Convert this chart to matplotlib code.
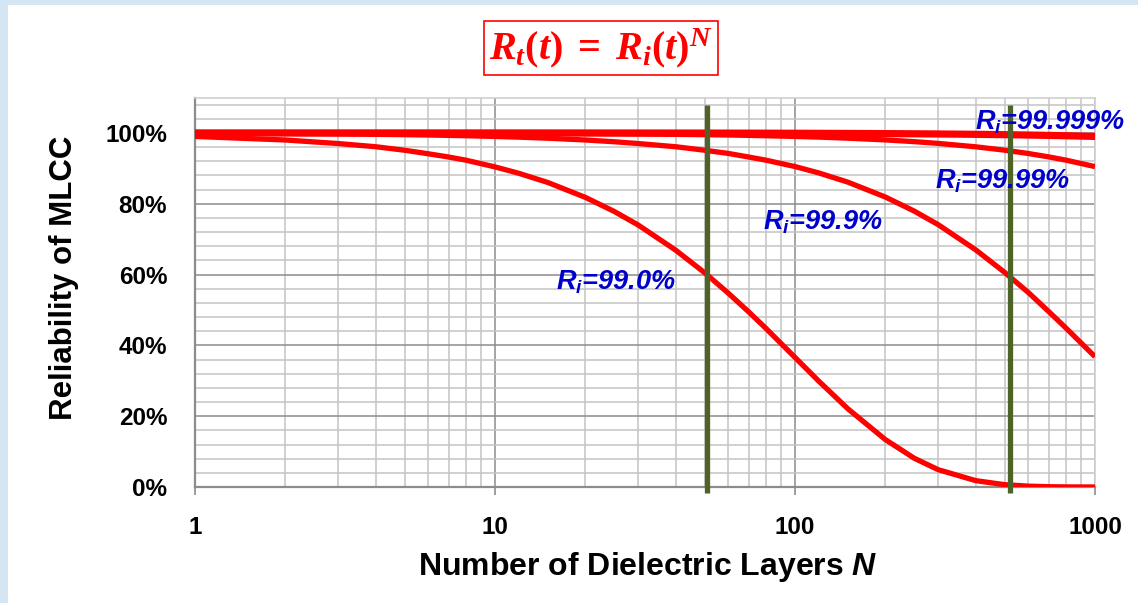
import matplotlib
matplotlib.use("Agg")
import matplotlib.pyplot as plt
from matplotlib.ticker import LogLocator, FixedLocator, PercentFormatter, NullFormatter
from matplotlib.patches import Rectangle

plt.rcParams["font.family"] = ["Liberation Sans", "DejaVu Sans"]
plt.rcParams["mathtext.fontset"] = "custom"
plt.rcParams["mathtext.it"] = "Liberation Serif:italic:bold"
plt.rcParams["mathtext.rm"] = "Liberation Serif:bold"
plt.rcParams["mathtext.sf"] = "Liberation Sans:italic:bold"

# number of dielectric layers and reliability (%)
layers = [1, 2, 3, 4, 5, 6, 7, 8, 10, 12, 15, 20, 25, 30, 40, 50, 60, 70, 80,
          100, 120, 150, 200, 250, 300, 400, 500, 600, 700, 800, 1000]
r_990 = [99.0, 98.0, 97.0, 96.1, 95.1, 94.1, 93.2, 92.3, 90.4, 88.6, 86.0, 81.8,
         77.8, 74.0, 66.9, 60.5, 54.7, 49.5, 44.8, 36.6, 29.9, 22.1, 13.4, 8.1,
         4.9, 1.8, 0.66, 0.24, 0.09, 0.03, 0.0]
r_999 = [99.9, 99.8, 99.7, 99.6, 99.5, 99.4, 99.3, 99.2, 99.0, 98.8, 98.5, 98.0,
         97.5, 97.0, 96.1, 95.1, 94.2, 93.2, 92.3, 90.5, 88.7, 86.1, 81.9, 77.9,
         74.1, 67.0, 60.6, 54.9, 49.6, 44.9, 36.8]
r_9999 = [99.99, 99.98, 99.97, 99.96, 99.95, 99.94, 99.93, 99.92, 99.90, 99.88,
          99.85, 99.80, 99.75, 99.70, 99.60, 99.50, 99.40, 99.30, 99.20, 99.00,
          98.81, 98.51, 98.02, 97.53, 97.04, 96.08, 95.12, 94.18, 93.24, 92.31, 90.48]
r_99999 = [99.999, 99.998, 99.997, 99.996, 99.995, 99.994, 99.993, 99.992, 99.99,
           99.988, 99.985, 99.98, 99.975, 99.97, 99.96, 99.95, 99.94, 99.93, 99.92,
           99.90, 99.88, 99.85, 99.80, 99.75, 99.70, 99.60, 99.50, 99.40, 99.30,
           99.20, 99.01]
marker_layers = [51, 520]

labels = ["$\\mathsf{R_i}$=99.0%", "$\\mathsf{R_i}$=99.9%",
          "$\\mathsf{R_i}$=99.99%", "$\\mathsf{R_i}$=99.999%"]
label_pos = [(16.0, 55.7), (78.0, 72.6), (293, 84.2), (398, 101.1)]

fig = plt.figure(figsize=(11.38, 6.03), dpi=100)
fig.patch.set_facecolor("white")
# light blue slide background peeking out at left and top
fig.patches.append(Rectangle((0, 0), 7.5 / 1138, 1, transform=fig.transFigure,
                             facecolor="#d4e5f4", edgecolor="none", zorder=-1))
fig.patches.append(Rectangle((0, 1 - 5 / 603), 1, 5 / 603, transform=fig.transFigure,
                             facecolor="#d4e5f4", edgecolor="none", zorder=-1))

ax = fig.add_axes([195 / 1138, 1 - 487 / 603, 900 / 1138, 389.5 / 603])
ax.set_xscale("log")
ax.set_xlim(1, 1000)
ax.set_ylim(0, 110)

ax.xaxis.set_major_locator(LogLocator(base=10))
ax.xaxis.set_minor_locator(LogLocator(base=10, subs=range(2, 10)))
ax.xaxis.set_minor_formatter(NullFormatter())
ax.set_xticks([1, 10, 100, 1000], ["1", "10", "100", "1000"])
ax.yaxis.set_major_locator(FixedLocator([0, 20, 40, 60, 80, 100]))
ax.yaxis.set_minor_locator(FixedLocator([4, 8, 12, 16, 24, 28, 32, 36, 44, 48, 52, 56,
                                         64, 68, 72, 76, 84, 88, 92, 96, 104, 108]))
ax.yaxis.set_major_formatter(PercentFormatter(decimals=0))

ax.grid(which="major", color="#8c8c8c", lw=1.1)
ax.grid(which="minor", color="#c4c4c4", lw=1.1)
ax.set_axisbelow(True)

ax.tick_params(axis="x", which="major", length=6, color="#8c8c8c", width=1.2,
               labelsize=17.5, pad=15)
ax.tick_params(axis="x", which="minor", length=0)
ax.tick_params(axis="y", which="both", length=0, labelsize=17.5, pad=20)
for lab in ax.get_xticklabels() + ax.get_yticklabels():
    lab.set_fontweight("bold")

for side in ["left", "bottom"]:
    ax.spines[side].set_color("#8c8c8c")
    ax.spines[side].set_linewidth(1.6)
for side in ["top", "right"]:
    ax.spines[side].set_color("#d0d0d0")
    ax.spines[side].set_linewidth(1.2)

ax.plot(layers, r_990, color="#ff0000", lw=3.8, solid_capstyle="butt", zorder=3)
ax.plot(layers, r_999, color="#ff0000", lw=3.8, solid_capstyle="butt", zorder=3)
ax.plot(layers, r_9999, color="#ff0000", lw=3.8, solid_capstyle="butt", zorder=3)
ax.plot(layers, r_99999, color="#ff0000", lw=5.2, solid_capstyle="butt", zorder=3)

for n in marker_layers:
    ax.plot([n, n], [-1.6, 108], color="#4f6228", lw=3.8, solid_capstyle="butt",
            clip_on=False, zorder=4)

for text, (x, y) in zip(labels, label_pos):
    ax.text(x, y, text, color="#0000cc", fontsize=19.5, fontweight="bold",
            fontstyle="italic", ha="left", va="baseline", zorder=5)

fig.text(648 / 1138, 1 - 567 / 603, "Number of Dielectric Layers $\\mathsf{N}$",
         fontsize=23, fontweight="bold", ha="center", va="center")
fig.text(64 / 1138, 1 - 278 / 603, "Reliability of MLCC", fontsize=22.5,
         fontweight="bold", rotation=90, ha="center", va="center")

fig.text(601 / 1138, 1 - 48 / 603, "$R_t(t)\\;=\\;R_i(t)^N$", color="#ff0000",
         fontsize=29, ha="center", va="center",
         bbox=dict(boxstyle="square,pad=0.12", facecolor="white",
                   edgecolor="#ff0000", lw=1.2))

fig.savefig("out.png", dpi=100)
